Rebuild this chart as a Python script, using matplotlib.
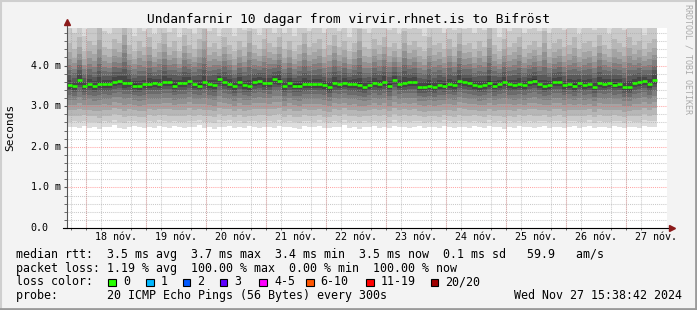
import matplotlib
matplotlib.use('Agg')
import matplotlib.pyplot as plt
import matplotlib.dates as mdates
from matplotlib.lines import Line2D
from matplotlib.patches import Rectangle
from matplotlib.transforms import blended_transform_factory
import numpy as np
import pandas as pd

MONO = 'DejaVu Sans Mono'

title = 'Undanfarnir 10 dagar from virvir.rhnet.is to Bifröst'
start_time = pd.Timestamp('2024-11-17 16:24')
bin_hours = 2
day_labels = ['18 nóv.', '19 nóv.', '20 nóv.', '21 nóv.', '22 nóv.',
              '23 nóv.', '24 nóv.', '25 nóv.', '26 nóv.', '27 nóv.']

# median rtt per 2h bin (ms)
median_ms = [3.52, 3.49, 3.64, 3.50, 3.54, 3.49, 3.55, 3.54, 3.54, 3.59,
             3.63, 3.56, 3.57, 3.51, 3.49, 3.54, 3.55, 3.56, 3.55, 3.59,
             3.60, 3.51, 3.56, 3.57, 3.62, 3.55, 3.51, 3.59, 3.54, 3.52,
             3.66, 3.59, 3.55, 3.49, 3.59, 3.52, 3.49, 3.59, 3.63, 3.57,
             3.57, 3.66, 3.63, 3.49, 3.57, 3.51, 3.51, 3.54, 3.55, 3.55,
             3.54, 3.52, 3.47, 3.57, 3.55, 3.57, 3.54, 3.54, 3.52, 3.47,
             3.52, 3.57, 3.54, 3.60, 3.51, 3.64, 3.55, 3.57, 3.59, 3.60,
             3.47, 3.48, 3.51, 3.47, 3.52, 3.51, 3.55, 3.52, 3.62, 3.59,
             3.57, 3.52, 3.49, 3.52, 3.57, 3.51, 3.54, 3.59, 3.54, 3.52,
             3.55, 3.52, 3.59, 3.63, 3.55, 3.49, 3.52, 3.59, 3.59, 3.52,
             3.55, 3.50, 3.58, 3.52, 3.55, 3.48, 3.57, 3.55, 3.58, 3.53,
             3.55, 3.48, 3.47, 3.57, 3.59, 3.62, 3.54, 3.65]

# fastest ping of each bin (bottom edge of the smoke, ms)
smoke_low_ms = [2.48, 2.50, 2.46, 2.52, 2.47, 2.49, 2.43, 2.50, 2.48, 2.53,
                2.47, 2.44, 2.49, 2.51, 2.48, 2.46, 2.50, 2.47, 2.52, 2.49,
                2.47, 2.51, 2.48, 2.46, 2.50, 2.49, 2.53, 2.47, 2.48, 2.45,
                2.50, 2.48, 2.52, 2.47, 2.49, 2.46, 2.51, 2.48, 2.47, 2.50,
                2.49, 2.46, 2.52, 2.48, 2.50, 2.47, 2.45, 2.51, 2.49, 2.48,
                2.52, 2.47, 2.46, 2.50, 2.48, 2.53, 2.47, 2.49, 2.45, 2.50,
                2.48, 2.51, 2.47, 2.49, 2.46, 2.52, 2.48, 2.50, 2.47, 2.49,
                2.51, 2.46, 2.48, 2.50, 2.47, 2.52, 2.49, 2.46, 2.50, 2.48,
                2.47, 2.51, 2.49, 2.46, 2.52, 2.48, 2.50, 2.45, 2.49, 2.47,
                2.51, 2.48, 2.50, 2.46, 2.49, 2.52, 2.47, 2.48, 2.50, 2.46,
                2.49, 2.51, 2.47, 2.48, 2.52, 2.46, 2.50, 2.48, 2.47, 2.51,
                2.49, 2.46, 2.50, 2.48, 2.47, 2.52, 2.49, 2.48]

# 18th of 20 pings (where the light top smoke begins, ms)
smoke_high_ms = [4.55, 4.40, 4.70, 4.35, 4.60, 4.50, 4.95, 4.45, 4.40, 4.65,
                 4.55, 5.10, 4.50, 4.35, 4.60, 4.45, 4.70, 4.40, 4.55, 4.80,
                 4.45, 4.60, 4.35, 4.75, 4.50, 4.40, 4.65, 4.90, 4.45, 4.55,
                 4.40, 4.70, 4.50, 4.35, 4.60, 4.45, 4.85, 4.50, 4.40, 4.65,
                 4.55, 4.45, 4.70, 4.40, 4.60, 4.35, 4.50, 4.80, 4.45, 4.55,
                 4.65, 4.40, 4.50, 4.75, 4.45, 4.60, 4.35, 4.55, 4.90, 4.45,
                 4.40, 4.65, 4.50, 4.70, 4.45, 4.55, 4.40, 4.85, 4.50, 4.60,
                 4.45, 4.35, 4.70, 4.50, 4.55, 4.40, 4.65, 4.45, 4.80, 4.50,
                 4.55, 4.40, 4.60, 4.45, 4.95, 4.50, 4.35, 4.65, 4.45, 4.55,
                 4.70, 4.40, 4.50, 4.60, 4.45, 4.85, 4.40, 4.55, 4.65, 4.45,
                 4.50, 4.70, 4.40, 4.55, 4.60, 4.45, 4.75, 4.50, 4.40, 4.65,
                 4.55, 4.45, 4.70, 4.50, 4.60, 4.40, 4.55, 4.65]

# where the sorted pings sit between the median and the smoke edges
low_profile = [1.0, 0.87, 0.74, 0.60, 0.47, 0.35, 0.24, 0.15, 0.09, 0.035]
high_profile = [0.03, 0.12, 0.23, 0.35, 0.48, 0.62, 0.78, 1.0, 1.45, 2.6]

y_ticks = [0, 1, 2, 3, 4]
y_tick_labels = ['0.0', '1.0 m', '2.0 m', '3.0 m', '4.0 m']

rtt_avg, rtt_max, rtt_min, rtt_now, rtt_sd, am_s = 3.5, 3.7, 3.4, 3.5, 0.1, 59.9
loss_avg, loss_max, loss_min, loss_now = 1.19, 100.00, 0.00, 100.00
loss_labels = ['0', '1', '2', '3', '4-5', '6-10', '11-19', '20/20']
loss_colors = ['#26ff00', '#00b8ff', '#0059ff', '#5e00ff',
               '#ff00ff', '#ff5500', '#ff0000', '#a00000']
probe_text = '20 ICMP Echo Pings (56 Bytes) every 300s'
stamp_text = 'Wed Nov 27 15:38:42 2024'

W, H = 697, 310
fig = plt.figure(figsize=(W / 100, H / 100), dpi=100)
fig.patch.set_facecolor('#f3f3f3')
ax = fig.add_axes([67 / W, (H - 228) / H, 600 / W, 200.3 / H])
ax.set_facecolor('white')

# time axis
n = len(median_ms)
edges = pd.date_range(start_time, periods=n + 1, freq=f'{bin_hours}h')
xe = mdates.date2num(edges.to_pydatetime())
x0 = mdates.date2num(start_time.to_pydatetime())
x1 = x0 + 10

med = np.array(median_ms)
lo = np.array(smoke_low_ms)
hi = np.array(smoke_high_ms)
pings = [med - f * (med - lo) for f in low_profile] + \
        [med + f * (hi - med) for f in high_profile]

half = 10
for i in range(half):
    g = int(190 / half * (half - (i + 1))) + 50
    col = '#%02x%02x%02x' % (g, g, g)
    ax.stairs(pings[2 * half - 1 - i], xe, baseline=pings[i], fill=True,
              color=col, lw=0, zorder=1)

ax.hlines(med, xe[:-1], xe[1:], colors=loss_colors[0], lw=1.9, zorder=4,
          capstyle='butt')

ax.set_xlim(x0, x1)
ax.set_ylim(0, 4.934)

# grid
six_h = mdates.date2num(pd.date_range('2024-11-17 18:00', '2024-11-27 12:00',
                                      freq='6h').to_pydatetime())
midnights = mdates.date2num(pd.date_range('2024-11-18', '2024-11-27',
                                          freq='D').to_pydatetime())
noons = midnights + 0.5
ax.set_xticks(six_h, minor=True)
ax.set_yticks(np.arange(0.2, 4.93, 0.2), minor=True)
ax.set_yticks(y_ticks)
ax.set_yticklabels([])
ax.set_xticks(noons, labels=day_labels)
ax.grid(which='minor', color='#a8a8a8', ls=(0, (1, 1)), lw=0.75, alpha=0.6,
        zorder=2)
ax.grid(which='major', axis='y', color='#ff6060', ls=(0, (1, 1)), lw=0.75,
        alpha=0.55, zorder=2)
ax.vlines(midnights, 0, 1, transform=ax.get_xaxis_transform(),
          colors='#ff6060', linestyles=(0, (1, 1)), lw=0.75, alpha=0.55,
          zorder=2)
ax.set_axisbelow(False)

for s in ax.spines.values():
    s.set_visible(False)
ax.tick_params(axis='x', which='major', length=0, pad=3.2, labelsize=7.2,
               labelcolor='black')
ax.tick_params(axis='x', which='minor', length=1.5, color='#555555')
ax.tick_params(axis='y', which='both', length=2, color='#555555')
for lab in ax.get_xticklabels():
    lab.set_family(MONO)

tr = blended_transform_factory(ax.transAxes, ax.transData)
for v, t in zip(y_ticks, y_tick_labels):
    ax.text(-0.0605, v, t, transform=tr, ha='left', va='center',
            fontsize=7.2, family=MONO)

# axis lines with arrows
ax.plot([0, 0], [0, 1.02], transform=ax.transAxes, color='#555555',
        lw=0.8, clip_on=False, zorder=5)
ax.plot([-0.007, 1.004], [0, 0], transform=ax.transAxes, color='black',
        lw=0.8, clip_on=False, zorder=5)
ax.plot([0], [1.03], marker='^', ms=4.5, color='#8b1a1a', mec='#8b1a1a',
        transform=ax.transAxes, clip_on=False, zorder=6)
ax.plot([1.008], [0], marker='>', ms=4.5, color='#8b1a1a', mec='#8b1a1a',
        transform=ax.transAxes, clip_on=False, zorder=6)

# texts
fig.text(0.5, 1 - 23.3 / H, title, ha='center', va='baseline',
         fontsize=9.3, family=MONO)
fig.text(10 / W, 1 - 127.5 / H, 'Seconds', rotation=90, ha='center',
         va='center', fontsize=8, family=MONO)
fig.text(688 / W, 1 - 4 / H, 'RRDTOOL / TOBI OETIKER', rotation=270,
         ha='center', va='top', fontsize=6, color='#aaaaaa', family=MONO)

fs = 8.35
lx = 16 / W
line1 = (f'median rtt:  {rtt_avg:.1f} ms avg  {rtt_max:.1f} ms max  '
         f'{rtt_min:.1f} ms min  {rtt_now:.1f} ms now  {rtt_sd:.1f} ms sd   '
         f'{am_s:.1f}   am/s')
line2 = (f'packet loss: {loss_avg:.2f} % avg  {loss_max:.2f} % max  '
         f'{loss_min:.2f} % min  {loss_now:.2f} % now')
fig.text(lx, 1 - 258.3 / H, line1, va='baseline', fontsize=fs, family=MONO)
fig.text(lx, 1 - 271.8 / H, line2, va='baseline', fontsize=fs, family=MONO)
fig.text(lx, 1 - 285.2 / H, 'loss color:', va='baseline', fontsize=fs,
         family=MONO)
box_x = [108.3, 146, 182.7, 220, 259.3, 306, 366, 430.7]
for bx, lab, c in zip(box_x, loss_labels, loss_colors):
    fig.patches.append(Rectangle((bx / W, 1 - 286 / H), 7.5 / W, 7.5 / H,
                                 transform=fig.transFigure, facecolor=c,
                                 edgecolor='black', lw=0.8))
    fig.text((bx + 14.7) / W, 1 - 285.2 / H, lab, va='baseline', fontsize=fs,
             family=MONO)
fig.text(lx, 1 - 299 / H, 'probe:       ' + probe_text, va='baseline',
         fontsize=fs, family=MONO)
fig.text(681.5 / W, 1 - 299 / H, stamp_text, ha='right', va='baseline',
         fontsize=fs, family=MONO)

# 3d frame
fig.add_artist(Line2D([0.5 / W, 0.5 / W], [0, 1], color='#cfcfcf', lw=1.5))
fig.add_artist(Line2D([0, 1], [1 - 0.5 / H, 1 - 0.5 / H], color='#cfcfcf', lw=1.5))
fig.add_artist(Line2D([1 - 1 / W, 1 - 1 / W], [0, 1], color='#9a9a9a', lw=2))
fig.add_artist(Line2D([0, 1], [1 / H, 1 / H], color='#9a9a9a', lw=2))

fig.savefig('out.png', dpi=100, facecolor=fig.get_facecolor())
